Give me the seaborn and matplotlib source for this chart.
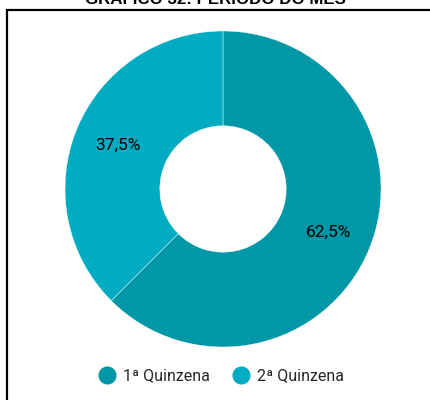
import matplotlib
matplotlib.use("Agg")
import matplotlib.pyplot as plt
import seaborn as sns
import numpy as np
from matplotlib.patches import Rectangle
from matplotlib.lines import Line2D

sns.set_theme(style="white")
plt.rcParams['font.family'] = ['Roboto', 'DejaVu Sans']

categories = ["1ª Quinzena", "2ª Quinzena"]
values = [62.5, 37.5]
labels = ["62,5%", "37,5%"]
colors = ["#0097A7", "#00ACC1"]
title = "GRÁFICO 32: PERÍODO DO MÊS"

fig = plt.figure(figsize=(4.3, 4.0), dpi=100)
fig.patch.set_facecolor("white")

# border box
fig.patches.append(Rectangle((7/430, -0.05), 1.2, (400-10)/400 + 0.05,
                             transform=fig.transFigure, fill=False,
                             edgecolor="black", linewidth=1.6))

fig.text(0.5, 1 - 4/400, title, ha="center", va="baseline",
         fontsize=12.2, fontweight="bold", family=["Liberation Sans"], color="#000000")

ax = fig.add_axes([(223-158)/430, (400-347)/400, 316/430, 316/400])
wedges, texts = ax.pie(values, colors=colors, startangle=90, counterclock=False,
                       radius=1.0, wedgeprops=dict(width=0.6, edgecolor="white", linewidth=0.3),
                       labels=None)
for w, lab in zip(wedges, labels):
    ang = np.deg2rad((w.theta1 + w.theta2) / 2)
    ax.text(0.72*np.cos(ang), 0.72*np.sin(ang), lab, ha="center", va="center",
            fontsize=12.5, color="black")
ax.set_xlim(-1, 1)
ax.set_ylim(-1, 1)
ax.axis("off")

handles = [Line2D([0], [0], marker="o", linestyle="none", markersize=12,
                  markerfacecolor=c, markeredgecolor=c) for c in colors]
fig.legend(handles, categories, loc="center", bbox_to_anchor=(221.5/430, 1 - 376/400),
           ncol=2, frameon=False, fontsize=11.5, handletextpad=0.5,
           columnspacing=1.5, handlelength=1.0)

fig.savefig("out.png", dpi=100)
